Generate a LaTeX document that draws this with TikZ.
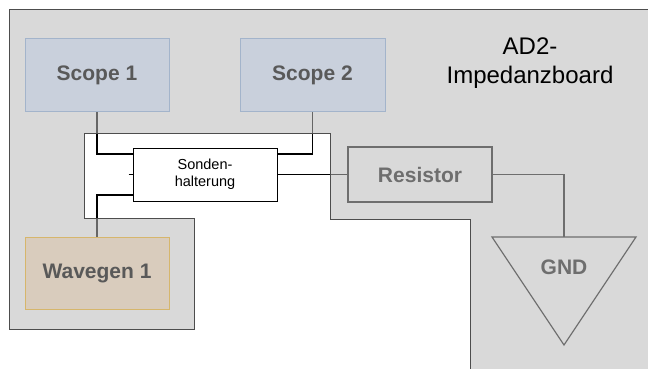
\documentclass[tikz,border=0pt]{standalone}
\usepackage{fontspec}
\setmainfont{Liberation Sans}

\definecolor{boardgray}{HTML}{BABABA}
\definecolor{boardedge}{HTML}{4D4D4D}
\definecolor{scopefill}{HTML}{C9D0DC}
\definecolor{scopeedge}{HTML}{A3B4CB}
\definecolor{wavefill}{HTML}{D9CCBD}
\definecolor{waveedge}{HTML}{D6B66C}
\definecolor{boxtext}{HTML}{595959}
\definecolor{partgray}{HTML}{6E6E6E}

\pgfdeclarelayer{wires}
\pgfdeclarelayer{board}
\pgfsetlayers{wires,board,main}

\tikzset{
  instrument/.style={draw, line width=1pt, minimum width=144pt, minimum height=72pt,
    inner sep=0pt, font=\fontsize{21}{24}\selectfont\bfseries, text=boxtext},
  scopebox/.style={instrument, fill=scopefill, draw=scopeedge},
  wavebox/.style={instrument, fill=wavefill, draw=waveedge},
  holder/.style={draw=black, fill=white, line width=1pt, minimum width=144pt,
    minimum height=53pt, inner sep=0pt, align=center,
    font=\fontsize{14.5}{17}\selectfont},
  part/.style={draw=partgray, line width=1.2pt, minimum width=144pt, minimum height=55pt,
    inner sep=0pt, font=\fontsize{21}{24}\selectfont\bfseries, text=partgray},
  wire/.style={draw=black, line width=1.3pt},
  partwire/.style={draw=partgray, line width=1.3pt},
}

\begin{document}
\begin{tikzpicture}[x=1pt, y=-1pt]
  \useasboundingbox (0,0) rectangle (648,369);

  % instruments and parts
  \node[scopebox] (scope1) at (97,75) {Scope 1};
  \node[scopebox, minimum width=145pt] (scope2) at (312.5,75) {Scope 2};
  \node[wavebox] (wavegen) at (97,273) {Wavegen 1};
  \node[holder] (sonden) at (205,174.5) {Sonden-\\halterung};
  \node[part] (resistor) at (420,174.5) {Resistor};
  \draw[partgray, line width=1.2pt] (492,237) -- (636,237) -- (564,345) -- cycle;
  \node[font=\fontsize{21}{24}\selectfont\bfseries, text=partgray] (gnd) at (564,267) {GND};
  \coordinate (gndtop) at (564,237);
  \draw[partwire] (resistor.east) -| (gndtop);

  % board title
  \node[align=center, font=\fontsize{24}{29}\selectfont] (title) at (530,63)
    {AD2-\\Impedanzboard};

  % probe wiring, lying under the translucent board
  \begin{pgfonlayer}{wires}
    \fill[white] (0,0) rectangle (648,369);
    \draw[wire] (scope1.south) |- ([xshift=3pt,yshift=20.5pt]sonden.west);
    \draw[wire] (scope2.south) |- ([xshift=-3pt,yshift=20.5pt]sonden.east);
    \draw[wire] (wavegen.north) |- ([xshift=3pt,yshift=-20.5pt]sonden.west);
    \draw[wire] ([xshift=-4pt]sonden.west) -- (sonden.west);
    \draw[wire] (sonden.east) -- (resistor.west);
  \end{pgfonlayer}

  % the impedance board
  \begin{pgfonlayer}{board}
    \fill[boardgray, fill opacity=0.55]
      (9,10) -- (648,10) -- (648,369) -- (470,369) -- (470,219) -- (330,219)
      -- (330,133) -- (84,133) -- (84,218) -- (194,218) -- (194,329) -- (9,329) -- cycle;
    \draw[boardedge, line width=1pt]
      (648,10) -- (9,10) -- (9,329) -- (194,329) -- (194,218) -- (84,218)
      -- (84,133) -- (330,133) -- (330,219) -- (470,219) -- (470,369);
  \end{pgfonlayer}
\end{tikzpicture}
\end{document}
